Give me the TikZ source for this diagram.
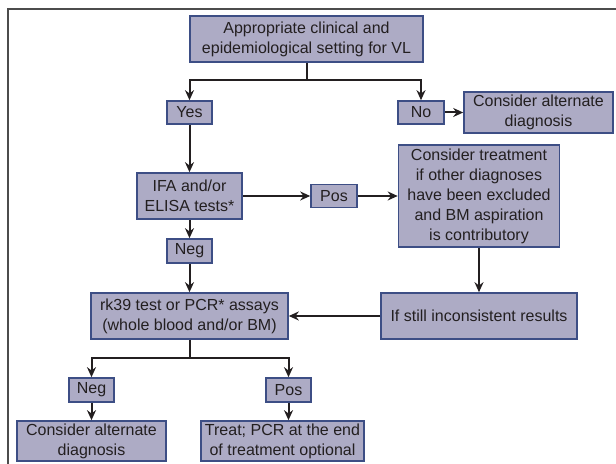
\documentclass[tikz,border=0pt]{standalone}
\usepackage{fontspec}
\setmainfont{Liberation Sans}
\usetikzlibrary{arrows.meta}
\definecolor{boxfill}{HTML}{ADABC5}
\definecolor{boxline}{HTML}{3D4E85}
\definecolor{ink}{HTML}{231F20}
\begin{document}
\begin{tikzpicture}[x=0.5pt, y=-0.5pt,
    box/.style={draw=boxline, fill=boxfill, line width=0.8pt, inner sep=0pt, align=center,
      text=ink, font=\fontsize{8}{10}\selectfont},
    link/.style={draw=ink, line width=1pt, -{Stealth[length=5pt, width=4.5pt]}},
    plain/.style={draw=ink, line width=1pt}]
  \useasboundingbox (0, 0) rectangle (616, 464);
  \draw[gray!60!black, line width=0.7pt] (8, 464) -- (8, 9) -- (616, 9);
  \node[box, minimum width=116.5pt, minimum height=23pt] (setting) at (306.5, 39) {Appropriate clinical and\\epidemiological setting for VL};
  \node[box, minimum width=22.5pt, minimum height=11.5pt] (yes) at (189.5, 112.5) {Yes};
  \node[box, minimum width=23pt, minimum height=11.5pt] (no) at (421, 112.5) {No};
  \node[box, minimum width=74.5pt, minimum height=20.5pt] (altR) at (538.5, 112.5) {Consider alternate\\diagnosis};
  \node[box, minimum width=52.5pt, minimum height=23pt] (ifa) at (189.5, 196) {IFA and/or\\ELISA tests*};
  \node[box, minimum width=23pt, minimum height=11.5pt] (pos1) at (334, 196) {Pos};
  \node[box, minimum width=80.5pt, minimum height=51pt] (treat) at (479, 196) {Consider treatment\\if other diagnoses\\have been excluded\\and BM aspiration\\is contributory};
  \node[box, minimum width=22.5pt, minimum height=12pt] (neg1) at (189.5, 251) {Neg};
  \node[box, minimum width=98.5pt, minimum height=23pt] (rk) at (189.5, 316) {rk39 test or PCR* assays\\(whole blood and/or BM)};
  \node[box, minimum width=98pt, minimum height=23pt] (still) at (479, 316) {If still inconsistent results};
  \node[box, minimum width=22.5pt, minimum height=12pt] (neg2) at (91.5, 390) {Neg};
  \node[box, minimum width=22.5pt, minimum height=12pt] (pos2) at (288.5, 390) {Pos};
  \node[box, minimum width=74.5pt, minimum height=20pt] (altL) at (91.5, 441) {Consider alternate\\diagnosis};
  \node[box, minimum width=81.5pt, minimum height=20pt] (treatE) at (282.5, 441) {Treat; PCR at the end\\of treatment optional};
  \coordinate (split1) at (306.5, 80);
  \coordinate (split2) at (189.5, 358.5);
  \draw[plain] (setting) -- (split1);
  \draw[link] (split1) -| (yes);
  \draw[link] (split1) -| (no);
  \draw[link] (no) -- (altR);
  \draw[link] (yes) -- (ifa);
  \draw[link] (ifa) -- (pos1);
  \draw[link] (pos1) -- (treat);
  \draw[link] (ifa) -- (neg1);
  \draw[link] (neg1) -- (rk);
  \draw[link] (treat) -- (still);
  \draw[link] (still) -- (rk);
  \draw[plain] (rk) -- (split2);
  \draw[link] (split2) -| (neg2);
  \draw[link] (split2) -| (pos2);
  \draw[link] (neg2) -- (altL);
  \draw[link] (pos2.south) -- (pos2.south |- treatE.north);
\end{tikzpicture}
\end{document}
